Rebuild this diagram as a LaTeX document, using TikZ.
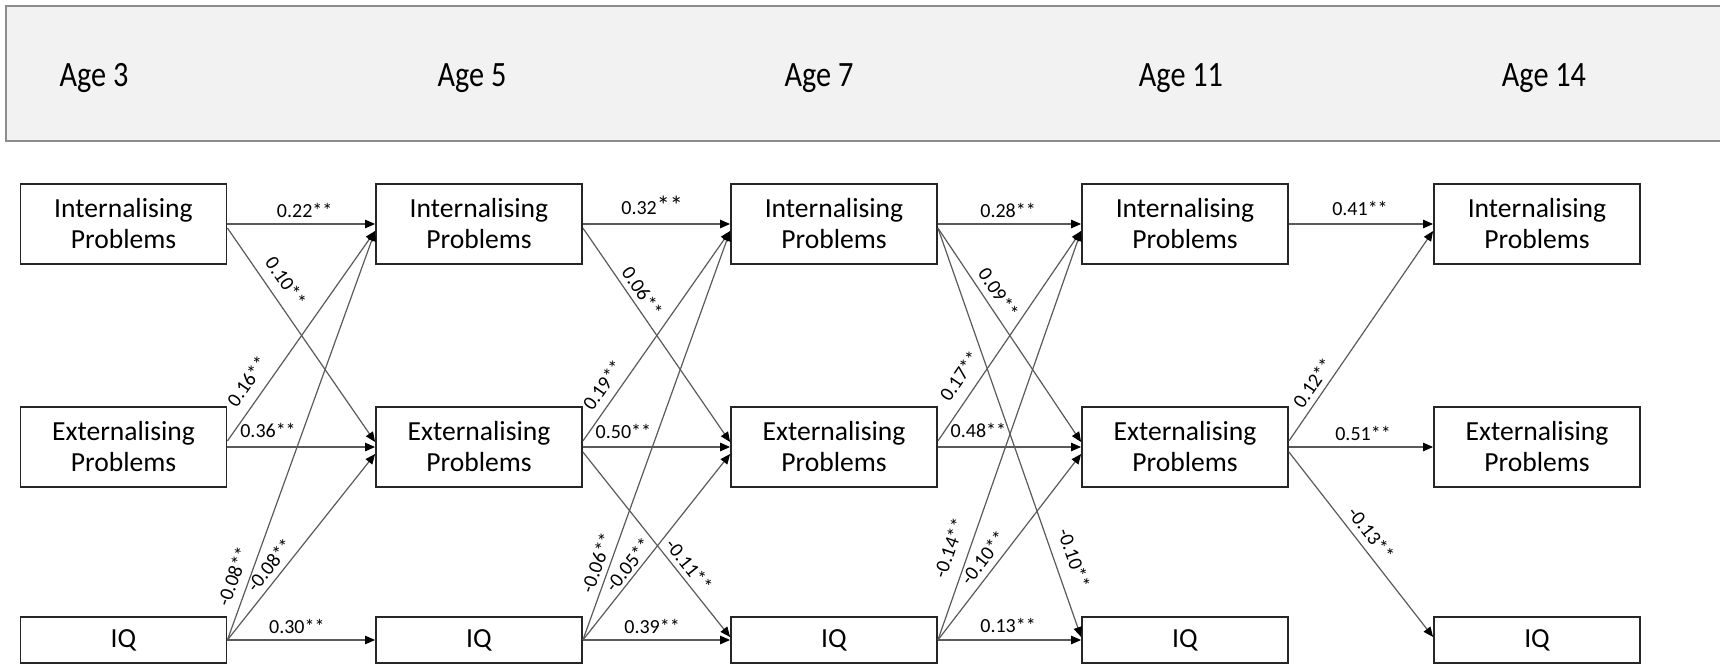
\documentclass[tikz,border=0pt]{standalone}
\usepackage{fontspec}
\usepackage{graphicx}
\setmainfont{Carlito}
\usetikzlibrary{arrows.meta}
\definecolor{hdrfill}{HTML}{F2F2F2}
\definecolor{hdrline}{HTML}{8C8C8C}
\definecolor{lineGray}{HTML}{5A5A5A}
\begin{document}
\begin{tikzpicture}[x=0.5pt,y=-0.5pt,
  box/.style={draw=black!85, line width=0.9pt, minimum width=103pt, minimum height=40pt,
    inner sep=0pt, align=center, font=\fontsize{13.8}{15.5}\selectfont},
  iqbox/.style={box, minimum height=23pt},
  conn/.style={draw=lineGray, line width=0.6pt, -{Triangle[length=5pt,width=4.2pt,color=black]}},
  lab/.style={font=\fontsize{10}{12}\selectfont, inner xsep=0pt, sloped, anchor=south, text=black},
  agelab/.style={font=\fontsize{17.8}{20}\selectfont, anchor=base, inner sep=0pt}
]
\useasboundingbox (0,0) rectangle (1720,664);
% header band
\path[fill=hdrfill, draw=hdrline, line width=1pt] (6,6) rectangle (1740,141);
\node[agelab] (A3) at (94,86) {\scalebox{0.85}[1]{Age 3}};
\node[agelab] (A5) at (472,86) {\scalebox{0.85}[1]{Age 5}};
\node[agelab] (A7) at (819,86) {\scalebox{0.85}[1]{Age 7}};
\node[agelab] (A11) at (1181,86) {\scalebox{0.85}[1]{Age 11}};
\node[agelab] (A14) at (1544,86) {\scalebox{0.85}[1]{Age 14}};
% boxes
\foreach \c/\x in {1/123.5,2/479,3/834,4/1185,5/1537}{
  \node[box] (I\c) at (\x,224) {Internalising\\Problems};
  \node[box] (E\c) at (\x,447) {Externalising\\Problems};
  \node[iqbox] (Q\c) at (\x,640) {IQ};
}
% Age 3 -> Age 5
\draw[conn] (I1.east) -- (I2.west) node[lab,pos=0.523,inner ysep=2.7pt]{0.22**};
\draw[conn] ([yshift=-2pt]I1.east) -- ([yshift=2.5pt]E2.west) node[lab,pos=0.297,inner ysep=5pt]{0.10**};
\draw[conn] ([yshift=3pt]E1.east) -- ([yshift=-3.5pt]I2.west) node[lab,pos=0.234,inner ysep=5.2pt]{0.16**};
\draw[conn] (E1.east) -- (E2.west) node[lab,pos=0.275,inner ysep=4.2pt]{0.36**};
\draw[conn] (Q1.east) -- ([yshift=-3.5pt]I2.west) node[lab,pos=0.142,inner ysep=4.25pt]{-0.08**};
\draw[conn] (Q1.east) -- ([yshift=-3.5pt]E2.west) node[lab,pos=0.358,inner ysep=2.9pt]{-0.08**};
\draw[conn] (Q1.east) -- (Q2.west) node[lab,pos=0.47,inner ysep=2.7pt]{0.30**};
% Age 5 -> Age 7
\draw[conn] (I2.east) -- (I3.west) node[lab,pos=0.47,inner ysep=4.2pt]{0.32{\fontsize{13}{14}\selectfont **}};
\draw[conn] ([yshift=-2pt]I2.east) -- ([yshift=2.5pt]E3.west) node[lab,pos=0.332,inner ysep=2.5pt]{0.06**};
\draw[conn] ([yshift=3pt]E2.east) -- ([yshift=-3.5pt]I3.west) node[lab,pos=0.223,inner ysep=4pt]{0.19**};
\draw[conn] (E2.east) -- (E3.west) node[lab,pos=0.275,inner ysep=3.7pt]{0.50**};
\draw[conn] ([yshift=-2.5pt]E2.east) -- ([yshift=1.5pt]Q3.west) node[lab,pos=0.654,inner ysep=2.45pt]{-0.11**};
\draw[conn] (Q2.east) -- ([yshift=-3.5pt]I3.west) node[lab,pos=0.178,inner ysep=2.65pt]{-0.06**};
\draw[conn] (Q2.east) -- ([yshift=-3.5pt]E3.west) node[lab,pos=0.367,inner ysep=1.6pt]{-0.05**};
\draw[conn] (Q2.east) -- (Q3.west) node[lab,pos=0.47,inner ysep=2.7pt]{0.39**};
% Age 7 -> Age 11
\draw[conn] (I3.east) -- (I4.west) node[lab,pos=0.49,inner ysep=2.7pt]{0.28**};
\draw[conn] ([yshift=-2pt]I3.east) -- ([yshift=2.5pt]E4.west) node[lab,pos=0.34,inner ysep=3.35pt]{0.09**};
\draw[conn] ([yshift=-2pt]I3.east) -- ([yshift=1.5pt]Q4.west) node[lab,pos=0.823,inner ysep=5.8pt]{-0.10**};
\draw[conn] ([yshift=3pt]E3.east) -- ([yshift=-3.5pt]I4.west) node[lab,pos=0.259,inner ysep=5.5pt]{0.17**};
\draw[conn] (E3.east) -- (E4.west) node[lab,pos=0.283,inner ysep=4.2pt]{0.48**};
\draw[conn] (Q3.east) -- ([yshift=-3.5pt]I4.west) node[lab,pos=0.209,inner ysep=6pt]{-0.14**};
\draw[conn] (Q3.east) -- ([yshift=-3.5pt]E4.west) node[lab,pos=0.396,inner ysep=3.25pt]{-0.10**};
\draw[conn] (Q3.east) -- (Q4.west) node[lab,pos=0.49,inner ysep=3.2pt]{0.13**};
% Age 11 -> Age 14
\draw[conn] (I4.east) -- (I5.west) node[lab,pos=0.493,inner ysep=3.7pt]{0.41**};
\draw[conn] ([yshift=3pt]E4.east) -- ([yshift=-3.5pt]I5.west) node[lab,pos=0.242,inner ysep=2.75pt]{0.12**};
\draw[conn] (E4.east) -- (E5.west) node[lab,pos=0.514,inner ysep=2.7pt]{0.51**};
\draw[conn] ([yshift=-2.5pt]E4.east) -- ([yshift=1.5pt]Q5.west) node[lab,pos=0.489,inner ysep=3.5pt]{-0.13**};
\end{tikzpicture}
\end{document}
